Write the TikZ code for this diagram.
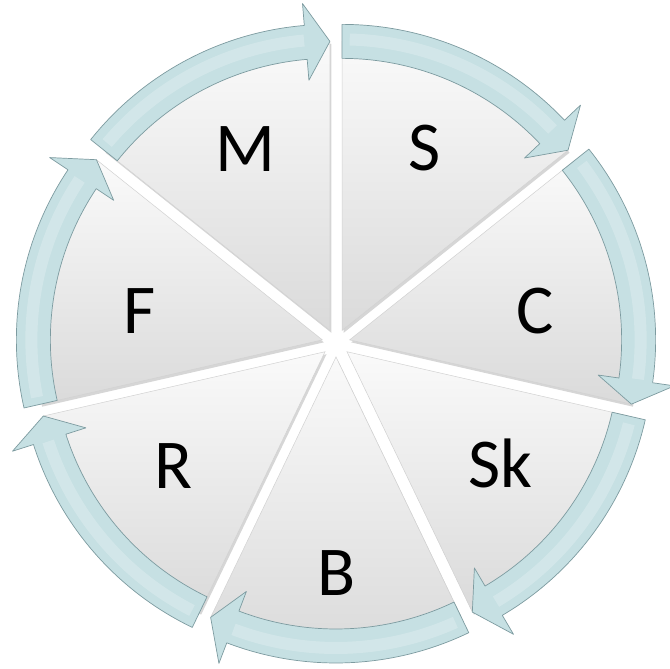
\documentclass[tikz,border=0pt]{standalone}
\usepackage{fontspec}
\setmainfont{Carlito}
\definecolor{arrowfill}{RGB}{198,224,227}
\definecolor{arrowedge}{RGB}{125,155,160}
\definecolor{wedgetop}{RGB}{250,250,250}
\definecolor{wedgebot}{RGB}{218,218,218}
\tikzset{
  wedgeshape/.style={top color=wedgetop, bottom color=wedgebot, draw=gray!35, line width=0.5pt},
  wedgeshadow/.style={fill=black, opacity=0.16},
  arrowshape/.style={fill=arrowfill, draw=arrowedge, line width=0.7pt, line join=round},
  arrowlight/.style={draw=white, opacity=0.22, line width=12pt},
  lab/.style={font=\fontsize{70}{70}\selectfont, text=black, inner sep=0pt}
}
\begin{document}
\begin{tikzpicture}[x=1pt,y=1pt]
\useasboundingbox (0,0) rectangle (670,669);
\fill[white] (0,0) rectangle (670,669);
\coordinate (O) at (336,326);
% wedges
\foreach \k in {0,...,6} {
  \pgfmathsetmacro\sa{90-\k*360/7}
  \pgfmathsetmacro\ea{\sa-360/7}
  \pgfmathsetmacro\ma{\sa-180/7}
  \begin{scope}[shift={(O)}, shift={(\ma:14)}]
    \path[wedgeshadow] (1.5,-2.5) -- ++(\ea:289) arc[start angle=\ea, end angle=\sa, radius=289] -- cycle;
    \path[wedgeshape] (0,0) -- (\ea:289) arc[start angle=\ea, end angle=\sa, radius=289] -- cycle;
  \end{scope}
}
% arrows
\foreach \k in {0,...,6} {
  \pgfmathsetmacro\sa{90-\k*360/7}
  \pgfmathsetmacro\ea{\sa-360/7}
  \pgfmathsetmacro\ma{\sa-180/7}
  \pgfmathsetmacro\hb{\ea+4.8}
  \pgfmathsetmacro\la{\sa-1.5}
  \pgfmathsetmacro\lb{\hb+0.3}
  \begin{scope}[shift={(O)}, shift={(\ma:14)}]
    \path[arrowshape] (\sa:306) arc[start angle=\sa, end angle=\hb, radius=306]
      -- (\hb:328) -- (\ea:289) -- (\hb:251) -- (\hb:272)
      arc[start angle=\hb, end angle=\sa, radius=272] -- cycle;
    \path[arrowlight] (\la:291) arc[start angle=\la, end angle=\lb, radius=291];
  \end{scope}
}
% labels
\node[lab] (m)  at (245,520) {M};
\node[lab] (s)  at (425,521) {S};
\node[lab] (c)  at (535,358) {C};
\node[lab] (f)  at (140,358) {F};
\node[lab] (r)  at (174,203) {R};
\node[lab] (sk) at (500,206) {Sk};
\node[lab] (b)  at (337,96)  {B};
\end{tikzpicture}
\end{document}
